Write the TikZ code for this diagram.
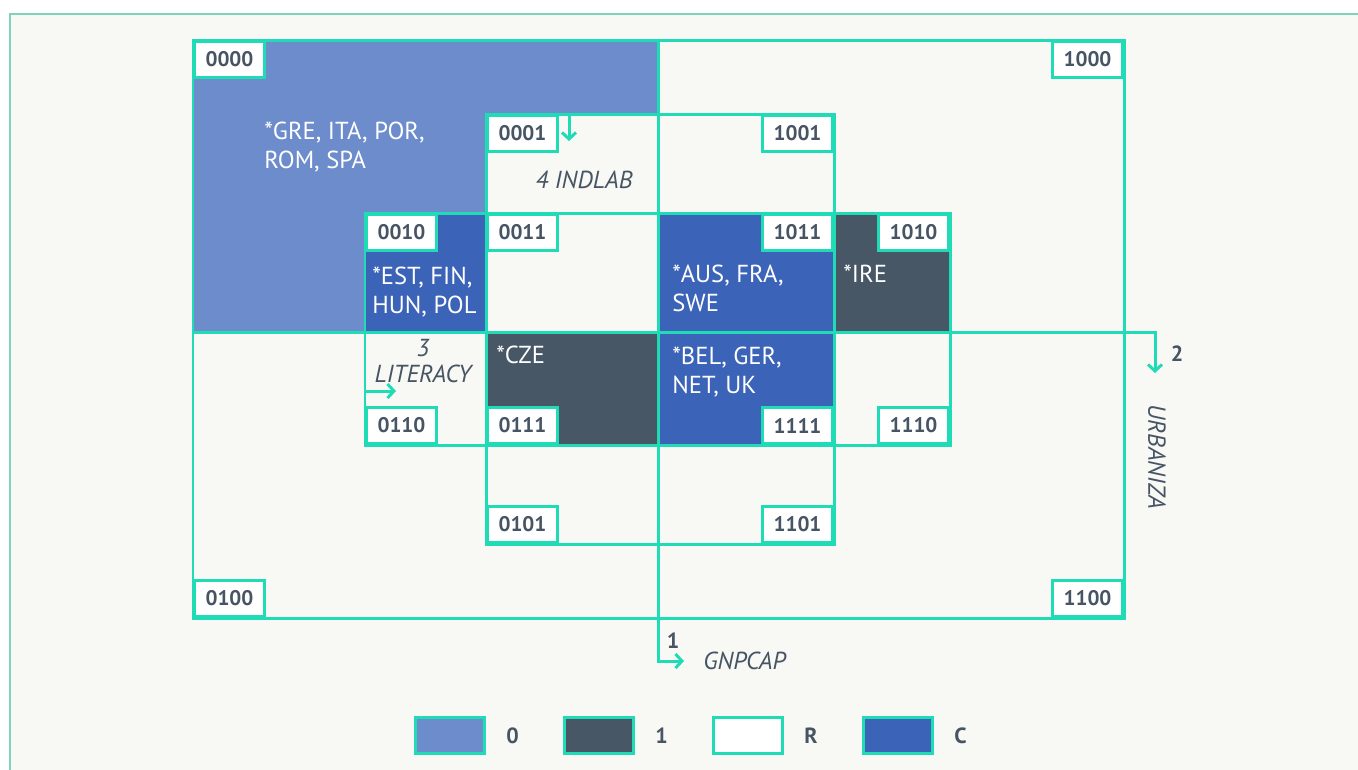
\documentclass[tikz,border=0pt]{standalone}
\usepackage{fontspec}
\setmainfont{PT Sans}
\usetikzlibrary{arrows.meta,positioning}
\definecolor{lineteal}{HTML}{1FDBB6}
\definecolor{framegreen}{HTML}{7FD3BD}
\definecolor{paper}{HTML}{F8F9F4}
\definecolor{zeroblue}{HTML}{6D8CCB}
\definecolor{cblue}{HTML}{3B63B8}
\definecolor{oneslate}{HTML}{475766}
\definecolor{textgray}{HTML}{465464}
\tikzset{
  grid/.style={draw=lineteal,line width=1.7pt},
  code/.style={draw=lineteal,line width=1.7pt,fill=white,text=textgray,font=\bfseries\fontsize{12}{14}\selectfont,minimum width=1.4cm,minimum height=0.72cm,inner sep=0pt},
  axis/.style={lineteal,line width=1.7pt,-{Straight Barb[length=1.3mm,width=2.8mm]}},
  cases/.style={text=white,align=left,anchor=north west,inner sep=0pt,font=\fontsize{14}{16.5}\selectfont},
  vname/.style={text=textgray,font=\itshape\fontsize{14}{15}\selectfont,inner sep=0pt},
  vnum/.style={text=textgray,font=\bfseries\fontsize{12.5}{14}\selectfont,inner sep=0pt},
  legbox/.style={draw=lineteal,line width=1.7pt,minimum width=1.38cm,minimum height=0.72cm,inner sep=0pt},
}

\begin{document}
\begin{tikzpicture}[x=0.02cm,y=-0.02cm]
  \useasboundingbox (0,0) rectangle (1358,769);
  \clip (0,0) rectangle (1358,769);
  \fill[white] (0,0) rectangle (1358,769);
  \draw[framegreen,line width=1pt,fill=paper] (10,14) rectangle (1380,790);
  % filled configurations
  \fill[zeroblue] (193,40) -- (658,40) -- (658,114) -- (486,114) -- (486,213) -- (365,213) -- (365,332) -- (193,332) -- cycle;
  \fill[cblue] (365,213) rectangle (486,332);
  \fill[cblue] (658,213) rectangle (834,445);
  \fill[oneslate] (834,213) rectangle (950,332);
  \fill[oneslate] (486,332) rectangle (658,445);
  % condition rectangles
  \draw[grid] (193,40) rectangle (1124,618);
  \draw[grid] (486,114) rectangle (834,544);
  \draw[grid] (365,213) rectangle (950,445);
  % axes
  \coordinate (gTop) at (658,40);
  \coordinate (gTip) at (684,661);
  \coordinate (uLeft) at (193,332);
  \coordinate (uTip) at (1155,373);
  \coordinate (iTop) at (569,115);
  \coordinate (iTip) at (569,141);
  \coordinate (lLeft) at (366,391);
  \coordinate (lTip) at (396,391);
  \draw[axis] (gTop) |- (gTip);
  \draw[axis] (uLeft) -| (uTip);
  \draw[axis] (iTop) -- (iTip);
  \draw[axis] (lLeft) -- (lTip);
  % corner codes
  \foreach \c/\a/\x/\y in {0000/north west/193/40, 1000/north east/1124/40, 0100/south west/193/618, 1100/south east/1124/618,
      0001/north west/486/114, 1001/north east/834/114, 0101/south west/486/544, 1101/south east/834/544,
      0010/north west/365/213, 1010/north east/950/213, 0110/south west/365/445, 1110/south east/950/445,
      0011/north west/486/213, 1011/north east/834/213, 0111/south west/486/445, 1111/south east/834/445}
    \node[code,anchor=\a] (c\c) at (\x,\y) {\c};
  % cases
  \node[cases] (tGRE) at (264,122) {*GRE, ITA, POR,\\ROM, SPA};
  \node[cases] (tEST) at (372,267) {*EST, FIN,\\HUN, POL};
  \node[cases] (tAUS) at (672,265) {*AUS, FRA,\\SWE};
  \node[cases] (tIRE) at (843,265) {*IRE};
  \node[cases] (tCZE) at (496,346) {*CZE};
  \node[cases] (tBEL) at (672,347) {*BEL, GER,\\NET, UK};
  % condition names
  \node[vname] (nInd) at (584,180) {4 INDLAB};
  \node[vname,align=center] (nLit) at (423,361) {3\\LITERACY};
  \node[vnum] (nGnp1) at (673,641) {1};
  \node[vname,anchor=west] (nGnp) at (703,661) {GNPCAP};
  \node[vnum] (nUrb2) at (1177,354) {2};
  \node[vname,rotate=-90] (nUrb) at (1157,457) {URBANIZA};
  % legend
  \node[legbox,fill=zeroblue,anchor=north west] (l0) at (414,716) {};
  \node[legbox,fill=oneslate,anchor=north west] (l1) at (563,716) {};
  \node[legbox,fill=white,anchor=north west] (lR) at (712,716) {};
  \node[legbox,fill=cblue,anchor=north west] (lC) at (862,716) {};
  \foreach \n/\t in {l0/0,l1/1,lR/R,lC/C}
    \node[vnum,right=0.4cm of \n] (t\n) {\t};
\end{tikzpicture}
\end{document}
